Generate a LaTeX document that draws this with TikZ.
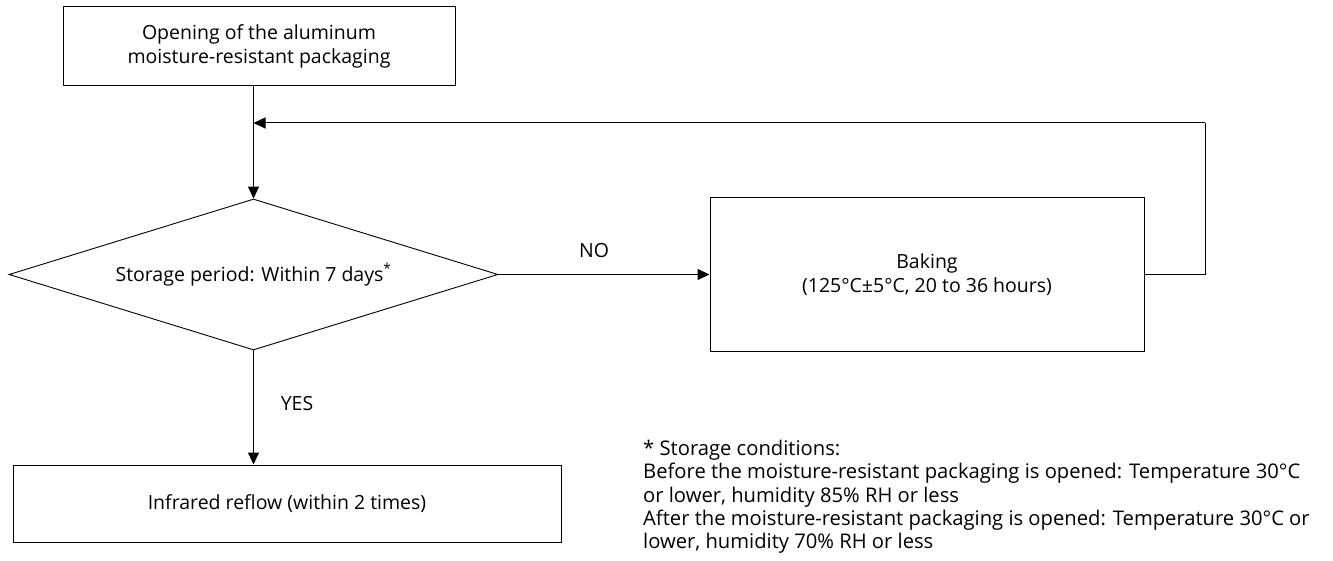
\documentclass[tikz,border=0pt]{standalone}
\usepackage{fontspec}
\setmainfont{Open Sans}
\usetikzlibrary{shapes.geometric,arrows.meta}
\begin{document}
\begin{tikzpicture}[x=1pt,y=-1pt,
  every node/.style={font=\fontsize{19.5}{23.3}\selectfont},
  procbox/.style={draw,line width=1pt,inner sep=0pt,align=center},
  decbox/.style={draw,line width=0.9pt,diamond,inner sep=0pt,aspect=3.24},
  flow/.style={line width=1pt,-{Triangle[length=12pt,width=11pt]}},
  plain/.style={line width=1pt},
  lbl/.style={inner sep=0pt},
  notestyle/.style={inner sep=0pt,anchor=north west,align=left,font=\fontsize{20.2}{23.3}\selectfont}]
\useasboundingbox (0,0) rectangle (1333,561);
\node[procbox,minimum width=392pt,minimum height=79pt] (open) at (259,46.5)
  {Opening of the aluminum\\moisture-resistant packaging};
\node[decbox,minimum width=489pt,minimum height=151pt] (dec) at (253.5,274.5)
  {Storage period: Within 7 days\textsuperscript{*}};
\node[procbox,minimum width=434pt,minimum height=153pt] (bake) at (927,274.5)
  {Baking\\(125°C±5°C, 20 to 36 hours)};
\node[procbox,minimum width=548pt,minimum height=77pt] (ir) at (287,503.5)
  {Infrared reflow (within 2 times)};
\coordinate (join) at (253.5,123);
\coordinate (c1) at (1205,274.5);
\coordinate (c2) at (1205,123);
\draw[flow] (dec.north |- open.south) -- (dec.north);
\draw[flow] (dec.east) -- (bake.west);
\node[lbl] (no) at (594,251) {NO};
\draw[flow] (dec.south) -- (dec.south |- ir.north);
\node[lbl] (yes) at (297,404) {YES};
\draw[plain] (bake.east) -- (c1) -- (c2);
\draw[flow] (c2) -- (join);
\node[notestyle] (note) at (643,440)
  {* Storage conditions:\\
   Before the moisture-resistant packaging is opened: Temperature 30°C\\
   or lower, humidity 85\% RH or less\\
   After the moisture-resistant packaging is opened: Temperature 30°C or\\
   lower, humidity 70\% RH or less};
\end{tikzpicture}
\end{document}
